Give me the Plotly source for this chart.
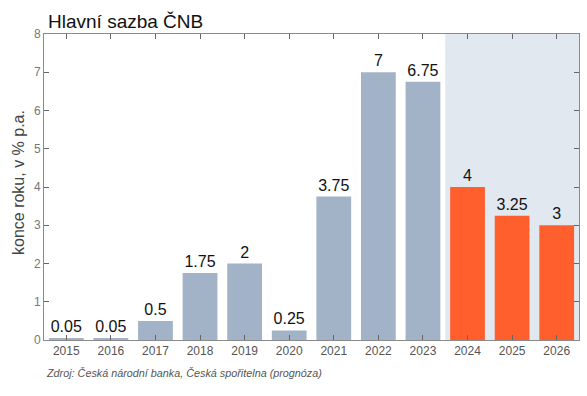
import plotly.graph_objects as go

years = ["2015", "2016", "2017", "2018", "2019", "2020", "2021", "2022", "2023", "2024", "2025", "2026"]
rates = [0.05, 0.05, 0.5, 1.75, 2, 0.25, 3.75, 7, 6.75, 4, 3.25, 3]
labels = ["0.05", "0.05", "0.5", "1.75", "2", "0.25", "3.75", "7", "6.75", "4", "3.25", "3"]
forecast_from = "2024"

colors = ["#ff5f2c" if int(y) >= int(forecast_from) else "#a2b3c8" for y in years]

fig = go.Figure()
fig.add_trace(go.Bar(
    x=years, y=rates, text=labels, textposition="outside",
    textfont=dict(size=16, color="#111111"),
    marker=dict(color=colors, line=dict(width=0)),
    width=0.78, cliponaxis=False,
))

first_fc = years.index(forecast_from)
fig.add_shape(type="rect", xref="x", yref="paper",
              x0=first_fc - 0.5, x1=len(years) - 0.5, y0=0, y1=1,
              fillcolor="#e2e8f0", line=dict(width=0), layer="below")

fig.update_layout(
    width=587, height=396,
    margin=dict(l=44, r=8, t=34, b=56, autoexpand=False),
    plot_bgcolor="white", paper_bgcolor="white",
    font=dict(family="Liberation Sans, Arial, sans-serif"),
    showlegend=False,
)
fig.update_xaxes(
    type="category", range=[-0.5, len(years) - 0.5], automargin=False,
    showline=True, linecolor="#8a8a8a", linewidth=1, mirror="ticks",
    ticks="inside", ticklen=5, tickcolor="#666666",
    tickfont=dict(size=12, color="#555555"), showgrid=False,
)
fig.update_yaxes(
    range=[0, 8], dtick=1, automargin=False,
    showline=True, linecolor="#8a8a8a", linewidth=1, mirror="ticks",
    ticks="inside", ticklen=5, tickcolor="#666666",
    tickfont=dict(size=12, color="#777777"), showgrid=False, zeroline=False,
)
fig.add_annotation(text="konce roku, v % p.a.", xref="paper", yref="paper",
                   x=0, y=0.5, xanchor="center", yanchor="middle", xshift=-26, yshift=4,
                   textangle=-90, showarrow=False,
                   font=dict(size=16, color="#444444"))
fig.add_annotation(text="Hlavní sazba ČNB", xref="paper", yref="paper",
                   x=0, y=1.0, xanchor="left", yanchor="bottom", yshift=0, xshift=2,
                   showarrow=False, font=dict(size=19, color="#111111"))
fig.add_annotation(text="<i>Zdroj: Česká národní banka, Česká spořitelna (prognóza)</i>",
                   xref="paper", yref="paper", x=0, y=0, xanchor="left", yanchor="top",
                   yshift=-25, xshift=0, showarrow=False, font=dict(size=10.8, color="#555555"))

fig.write_html("out.html", config={"displayModeBar": False},
               post_script="document.body.style.margin='0';")
